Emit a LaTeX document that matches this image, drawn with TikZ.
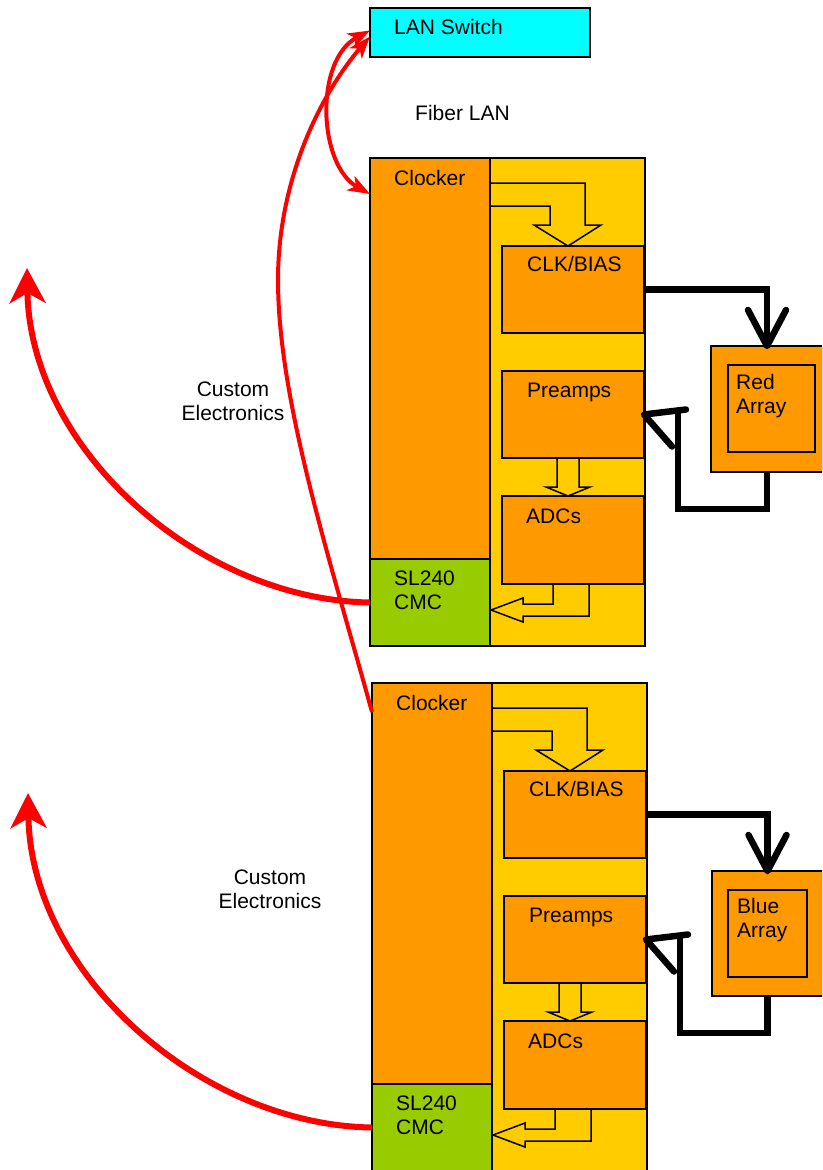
\documentclass[tikz,border=0pt]{standalone}
\usepackage{fontspec}
\setmainfont{Liberation Sans}
\usetikzlibrary{arrows.meta,calc}
\definecolor{cyanbox}{HTML}{00FFFF}
\definecolor{yel}{HTML}{FFCC00}
\definecolor{org}{HTML}{FF9900}
\definecolor{grn}{HTML}{99CC00}
\tikzset{
  box/.style={draw=black, line width=1.5pt, anchor=north west, inner sep=0pt, outer sep=0pt},
  lbl/.style={font=\fontsize{21}{24}\selectfont, inner sep=0pt, anchor=base west},
  mlbl/.style={font=\fontsize{21}{24}\selectfont, inner sep=0pt, align=left, anchor=west},
  clbl/.style={font=\fontsize{21}{24}\selectfont, inner sep=0pt, align=center},
  hollow/.style={draw=black, line width=1.5pt, fill=yel, line join=miter},
  blk/.style={draw=black, line width=6.5pt},
  blkhead/.style={draw=black, line width=6.5pt, line cap=round, line join=round},
  fiberline/.style={draw=red, line width=4pt},
  fibtip/.tip={Stealth[length=22pt,width=16pt,inset=6pt]},
  bigtip/.tip={Stealth[length=35pt,width=36pt,inset=10pt]},
  celine/.style={draw=red, line width=6pt, -{bigtip}},
}
\newcommand\ccdunit[3]{%
\begin{scope}[shift={(#2,#3)}]
\node[box, fill=yel, minimum width=275pt, minimum height=488pt] (#1outer) at (370,158) {};
\node[box, fill=org, minimum width=120pt, minimum height=401pt] (#1clocker) at (370,158) {};
\node[box, fill=grn, minimum width=120pt, minimum height=87pt] (#1sl) at (370,559) {};
\node[box, fill=org, minimum width=142pt, minimum height=87pt] (#1clk) at (502,246) {};
\node[box, fill=org, minimum width=142pt, minimum height=87pt] (#1pre) at (502,371) {};
\node[box, fill=org, minimum width=142pt, minimum height=88pt] (#1adc) at (502,496) {};
\node[lbl] (#1clockert) at (394,185.5) {Clocker};
\node[lbl] (#1clkt) at (527,271.5) {CLK/BIAS};
\node[lbl] (#1pret) at (527,397.5) {Preamps};
\node[lbl] (#1adct) at (526,523.5) {ADCs};
\node[mlbl] (#1slt) at (394,590) {SL240\\CMC};
\draw[hollow] (491,183) -- (585,183) -- (585,225) -- (601,225) -- (568,246) -- (534,225) -- (550,225) -- (550,206) -- (491,206);
\draw[hollow] (557,459) -- (557,487) -- (546,487) -- (568,496) -- (590,487) -- (579,487) -- (579,459);
\draw[hollow] (553,585) -- (553,604) -- (523,604) -- (523,598) -- (491,610) -- (523,622) -- (523,616) -- (589,616) -- (589,585);
\end{scope}}
\begin{document}
\begin{tikzpicture}[x=1pt,y=-1pt]
\useasboundingbox (0,0) rectangle (822,1170);
\begin{scope}
\clip (0,0) rectangle (822,1170);
% LAN switch
\node[box, fill=cyanbox, minimum width=220pt, minimum height=49pt] (lan) at (370,8) {};
\node[lbl] (lant) at (394,34.5) {LAN Switch};
\node[lbl] (fibt) at (415,120.5) {Fiber LAN};
% units
\ccdunit{u-}{0}{0}
\ccdunit{l-}{2}{525}
% arrays
\node[box, fill=org, minimum width=112pt, minimum height=126pt] (redout) at (711,346) {};
\node[box, fill=org, minimum width=87pt, minimum height=87pt] (redin) at (728,365) {};
\node[mlbl] (redt) at (736,396) {Red\\Array};
\node[box, fill=org, minimum width=111pt, minimum height=125pt] (blueout) at (712,871) {};
\node[box, fill=org, minimum width=79pt, minimum height=87pt] (bluein) at (728,890) {};
\node[mlbl] (bluet) at (737,920.5) {Blue\\Array};
% labels
\node[clbl] (cust1) at (233,401.5) {Custom\\Electronics};
\node[clbl] (cust2) at (270,889) {Custom\\Electronics};
% black connectors upper
\draw[blk] (u-clk.east) -| (redout.north);
\draw[blkhead] ($(redout.north)+(-19,-36)$) -- (redout.north) -- ($(redout.north)+(19,-36)$);
\draw[blk] (redout.south) -- ++(0,37) -| ($(u-pre.east)+(34,-3)$);
\draw[blkhead] ($(u-pre.east)+(42,-5)$) -- (u-pre.east) -- ($(u-pre.east)+(28,32)$);
% black connectors lower
\draw[blk] (l-clk.east) -| (blueout.north);
\draw[blkhead] ($(blueout.north)+(-19,-36)$) -- (blueout.north) -- ($(blueout.north)+(19,-36)$);
\draw[blk] (blueout.south) -- ++(0,37) -| ($(l-pre.east)+(34,-3)$);
\draw[blkhead] ($(l-pre.east)+(42,-5)$) -- (l-pre.east) -- ($(l-pre.east)+(28,32)$);
% red fiber links
\draw[fiberline, {fibtip}-{fibtip}] ($(lan.west)+(0,-2)$) .. controls (314,60) and (318,165) .. ($(u-clocker.north west)+(0,36)$);
\draw[fiberline, -{fibtip}] ($(l-clocker.north west)+(0,29)$) .. controls (330,560) and (278,400) .. (278,280) .. controls (278,180) and (320,95) .. ($(lan.west)+(0,4)$);
% custom electronics outputs
\coordinate (upout) at (27,268);
\coordinate (loout) at (28,793);
\draw[celine] (u-sl.west) .. controls (200,600) and (30,450) .. (upout);
\draw[celine] (l-sl.west) .. controls (202,1125) and (31,975) .. (loout);
\end{scope}
\end{tikzpicture}
\end{document}
